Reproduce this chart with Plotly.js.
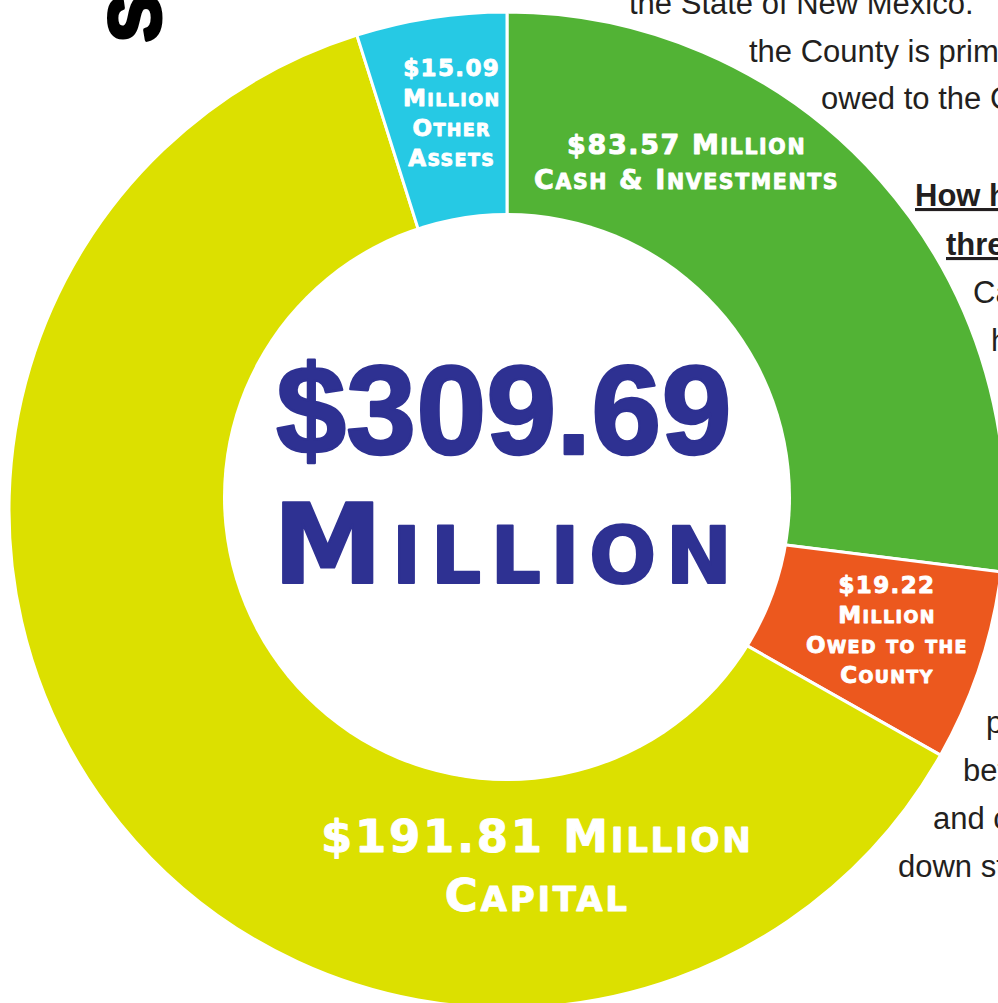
<!DOCTYPE html>
<html>
<head>
<meta charset="utf-8">
<script src="https://cdn.plot.ly/plotly-3.0.1.min.js"></script>
<style>
  html, body { margin: 0; padding: 0; overflow: hidden; background: #ffffff; }
  #chart { width: 1010px; height: 1010px; }
</style>
</head>
<body>
<div id="chart"></div>
<script>
// ---------------- data ----------------
const categories = ['Cash & Investments', 'Owed to the County', 'Capital', 'Other Assets'];
const values = [83.57, 19.22, 191.81, 15.09];          // $ millions
const totalValue = 309.69;                             // $ millions
const unitLabel = 'Million';
const sideTitle = 'S';
const bodyLines = ['the State of New Mexico.', 'the County is prim', 'owed to the C',
                   'How h', 'thre', 'Ca', 'h', 'p', 'bet', 'and c', 'down st'];

// ---------------- styles / layout ----------------
const sliceColors = ['#52b335', '#ec581e', '#dce000', '#26c9e4'];
const W = 1010, H = 1010;
const px = x => x / W;
const py = y => 1 - y / H;
const navy = '#2e3192';
const bodyColor = '#231f20';

// manual small caps: lowercase runs become smaller capitals
function smallCaps(line, size, ratio, spacingEm, extra) {
  const runs = line.match(/[a-z]+|[^a-z]+/g) || [];
  return runs.map(r => {
    if (/^[a-z]+$/.test(r)) {
      const s = size * ratio;
      return `<span style="font-size:${s.toFixed(1)}px;letter-spacing:${(size * spacingEm).toFixed(2)}px;${extra}">${r.toUpperCase()}</span>`;
    }
    return `<span style="letter-spacing:${(size * spacingEm).toFixed(2)}px;${extra}">${r}</span>`;
  }).join('');
}
const fmt = v => '$' + v.toFixed(2);

// label layouts: line structure for each slice
const labelCfg = [
  { lines: [fmt(values[0]) + ' ' + unitLabel, categories[0]], x: 686, y: 162, size: 27 },
  { lines: [fmt(values[1]), unitLabel, 'Owed to the', 'County'], x: 887, y: 630, size: 23 },
  { lines: [fmt(values[2]) + ' ' + unitLabel, categories[2]], x: 537, y: 866, size: 45 },
  { lines: [fmt(values[3]), unitLabel, 'Other', 'Assets'], x: 451, y: 113, size: 23 }
];

const whiteStroke = 'stroke:#ffffff;stroke-width:0.9px;stroke-linejoin:round';
const annotations = [];
labelCfg.forEach(c => {
  annotations.push({
    xref: 'paper', yref: 'paper', x: px(c.x), y: py(c.y),
    xanchor: 'center', yanchor: 'middle', showarrow: false, borderpad: 0,
    text: c.lines.map(l => smallCaps(l, c.size, 0.76, 0.06, whiteStroke)).join('<br>'),
    font: { family: 'DejaVu Sans', size: c.size, color: '#ffffff', weight: 'bold' }
  });
});

// centre total
annotations.push({
  xref: 'paper', yref: 'paper', x: px(503), y: py(410), xanchor: 'center', yanchor: 'middle',
  showarrow: false, borderpad: 0,
  text: `<span style="stroke:${navy};stroke-width:2.5px;stroke-linejoin:round">${fmt(totalValue)}</span>`,
  font: { family: 'Liberation Sans', size: 126, color: navy, weight: 'bold' }
});
annotations.push({
  xref: 'paper', yref: 'paper', x: px(507), y: py(545), xanchor: 'center', yanchor: 'middle',
  showarrow: false, borderpad: 0,
  text: smallCaps(unitLabel, 110, 0.72, 0.085, `stroke:${navy};stroke-width:2px;stroke-linejoin:round`),
  font: { family: 'DejaVu Sans', size: 110, color: navy, weight: 'bold' }
});

// rotated side title fragment
annotations.push({
  xref: 'paper', yref: 'paper', x: px(135), y: py(18), xanchor: 'center', yanchor: 'middle',
  showarrow: false, borderpad: 0, textangle: -90,
  text: `<span style="stroke:#000;stroke-width:4px;stroke-linejoin:round">${sideTitle}</span>`,
  font: { family: 'Liberation Sans', size: 72, color: '#000000', weight: 'bold' }
});

// body text fragments on the right
const bodyLeft = [628, 748, 820, 914, 945, 972, 990, 985, 962, 932, 897];
const bodyBase = [14, 62, 110, 207, 255, 303, 351, 733, 781, 829, 877];
bodyLines.forEach((t, i) => {
  const heading = (i === 3 || i === 4);
  annotations.push({
    xref: 'paper', yref: 'paper', x: px(bodyLeft[i]), y: py(bodyBase[i] - 11),
    xanchor: 'left', yanchor: 'middle', showarrow: false, borderpad: 0, text: t,
    font: { family: 'Liberation Sans', size: 31, color: bodyColor,
            weight: heading ? 'bold' : 'normal', lineposition: heading ? 'under' : 'none' }
  });
});

// donut geometry: outer ring centred at (507,510) r=498; the opening sits slightly higher
const ring = { cx: 507, cy: 510, r: 498 };
const opening = { cx: 507, cy: 497, r: 284 };

const trace = {
  type: 'pie',
  labels: categories,
  values: values,
  sort: false,
  direction: 'clockwise',
  rotation: 0,
  hole: 0.54,
  marker: { colors: sliceColors, line: { color: '#ffffff', width: 3 } },
  textinfo: 'none',
  hoverinfo: 'skip',
  showlegend: false,
  domain: { x: [px(ring.cx - ring.r), px(ring.cx + ring.r)], y: [py(ring.cy + ring.r), py(ring.cy - ring.r)] }
};

const layout = {
  width: W, height: H,
  margin: { l: 0, r: 0, t: 0, b: 0 },
  paper_bgcolor: '#ffffff',
  showlegend: false,
  annotations: annotations,
  shapes: [{
    type: 'circle', xref: 'paper', yref: 'paper', layer: 'above',
    x0: px(opening.cx - opening.r), x1: px(opening.cx + opening.r),
    y0: py(opening.cy + opening.r), y1: py(opening.cy - opening.r),
    fillcolor: '#ffffff', line: { width: 0 }
  }]
};

Plotly.newPlot('chart', [trace], layout, { staticPlot: true, displayModeBar: false });
</script>
</body>
</html>
